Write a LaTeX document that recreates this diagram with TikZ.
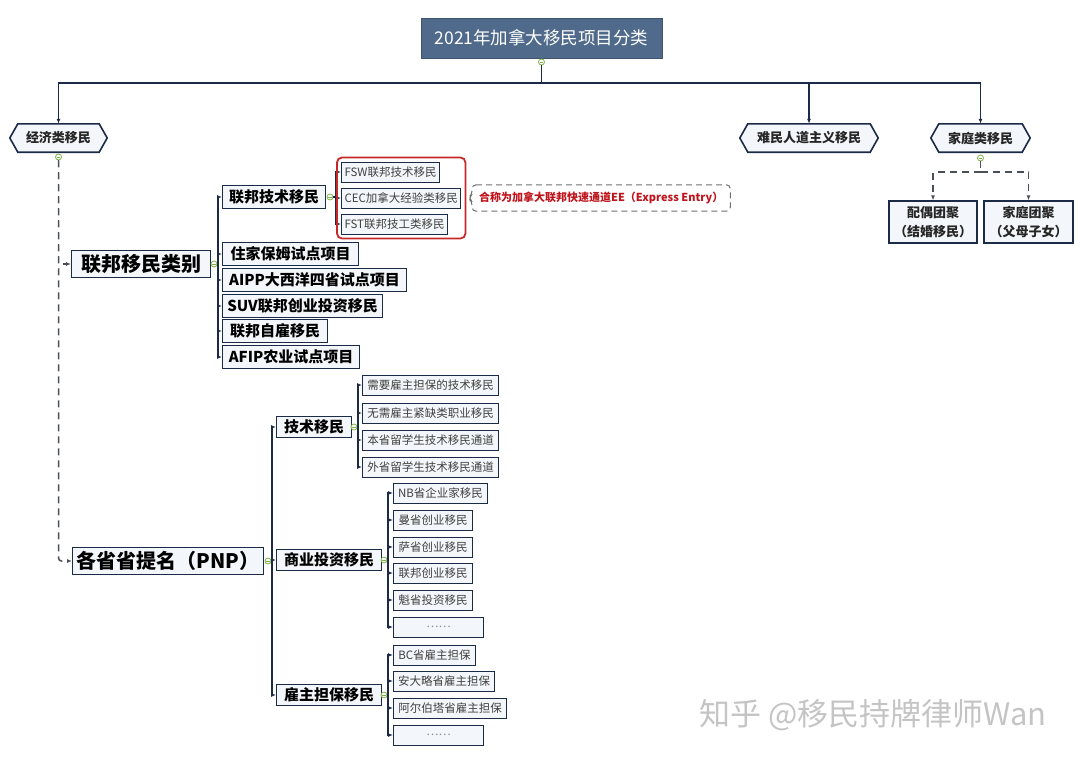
\documentclass[tikz,border=0pt]{standalone}
\usepackage{fontspec}
\setmainfont{Noto Sans CJK SC}
\usetikzlibrary{arrows.meta,fit,calc}
\definecolor{navy}{HTML}{1B2A47}
\definecolor{titleblue}{HTML}{4F6A8A}
\definecolor{boxfill}{HTML}{F3F6FA}
\definecolor{gcol}{HTML}{7CB342}
\definecolor{redline}{HTML}{C62828}
\definecolor{redtext}{HTML}{C0141C}
\definecolor{calloutgray}{HTML}{6E6E6E}
\definecolor{dashgray}{HTML}{4A4F5A}
\definecolor{wm}{HTML}{C4C4C4}
\pgfdeclarelayer{bg}
\pgfsetlayers{bg,main}
\begin{document}
\begin{tikzpicture}[x=1pt,y=-1pt,
 conn/.style={navy, line width=1.1pt},
 arr/.style={conn, -{Latex[length=5pt,width=4pt]}},
 dline/.style={dashgray, line width=1.5pt, dash pattern=on 7pt off 5pt},
 darr/.style={dline, -{Latex[length=5pt,width=4pt]}},
 gc/.style={circle, draw=gcol, fill=white, line width=0.8pt, inner sep=0pt, minimum size=6pt,
   path picture={\draw[gcol, line width=0.6pt] ([xshift=-1.8pt]path picture bounding box.center) -- ([xshift=1.8pt]path picture bounding box.center);}},
 nbox/.style={draw=navy, line width=1.2pt, fill=boxfill, inner xsep=3pt, inner ysep=0pt, anchor=west},
 lvlA/.style={nbox, font=\bfseries\fontsize{20}{20}\selectfont, minimum height=27pt},
 lvlB/.style={nbox, font=\bfseries\fontsize{15}{15}\selectfont, minimum height=23pt},
 lvlC/.style={nbox, line width=1pt, font=\fontsize{11.5}{11.5}\selectfont, minimum height=20pt, text=black!75},
 hexbox/.style={inner sep=0pt, minimum height=28pt, font=\bfseries\fontsize{13}{13}\selectfont, text=black!85},
 hexline/.style={draw=navy, line width=1.6pt, fill=boxfill},
 fam/.style={draw=navy, line width=1.2pt, fill=boxfill, inner sep=0pt, minimum height=42pt, align=center,
   font=\bfseries\fontsize{13}{19}\selectfont, text=black!85},
]
\useasboundingbox (0,0) rectangle (1080,760);

% title
\node[fill=titleblue, draw=titleblue!80!black, line width=0.6pt, minimum width=241pt, minimum height=40pt,
  text=white, font=\fontsize{17.5}{17.5}\selectfont] (title) at (541.5,38) {2021年加拿大移民项目分类};
\node[gc] (gtitle) at (541.5,62) {};
\coordinate (bus) at (541.5,83);

% level 1 hexagons
\node[hexbox, minimum width=81pt] (econ) at (58.5,138) {经济类移民};
\node[hexbox, minimum width=122pt] (refugee) at (809,138) {难民人道主义移民};
\node[hexbox, minimum width=83pt] (family) at (980.5,138) {家庭类移民};
\begin{pgfonlayer}{bg}
\foreach \n in {econ,refugee,family}
  \path[hexline] ([xshift=-8pt]\n.west) -- (\n.north west) -- (\n.north east) -- ([xshift=8pt]\n.east)
     -- (\n.south east) -- (\n.south west) -- cycle;
\end{pgfonlayer}
\draw[conn] (gtitle.south) -- (bus);
\draw[arr] (bus) -| (econ.north);
\draw[arr] (bus) -| (refugee.north);
\draw[arr] (bus) -| (family.north);

% family branch
\node[gc] (gfam) at (980.5,158) {};
\coordinate (fb) at (980.5,172);
\node[fam, minimum width=88pt] (spouse) at (933,222) {配偶团聚\\（结婚移民）};
\node[fam, minimum width=89pt] (parents) at (1028.5,222) {家庭团聚\\（父母子女）};
\draw[dline] (gfam.south) -- (fb);
\draw[darr] (fb) -| (spouse.north);
\draw[darr] (fb) -| (parents.north);

% economic branch
\node[gc] (gecon) at (58.5,157) {};
\node[lvlA, minimum width=139pt] (fed) at (71,264) {联邦移民类别};
\node[lvlA, minimum width=191pt] (pnp) at (72,561) {各省省提名（PNP）};
\draw[darr, rounded corners=3pt] (gecon.south) |- (pnp.west);
\draw[darr] (gecon.south) |- (fed.west);

% federal
\node[gc] (gfed) at (214,264) {};
\coordinate (bfed) at (218,264);
\node[lvlB, minimum width=103pt] (fsk) at (222,197) {联邦技术移民};
\node[lvlB, minimum width=136pt] (cg) at (222,254) {住家保姆试点项目};
\node[lvlB, minimum width=184pt] (aipp) at (222,280) {AIPP大西洋四省试点项目};
\node[lvlB, minimum width=160pt] (suv) at (222,306) {SUV联邦创业投资移民};
\node[lvlB, minimum width=105pt] (self) at (222,331) {联邦自雇移民};
\node[lvlB, minimum width=137pt] (afip) at (222,357) {AFIP农业试点项目};
\draw[conn] (gfed.east) -- (bfed);
\foreach \c in {fsk,cg,aipp,suv,self,afip} \draw[arr] (bfed) |- (\c.west);

% express entry
\node[gc] (gfsk) at (330,197) {};
\coordinate (bfsk) at (336,197);
\node[lvlC, minimum width=97pt] (fsw) at (341,172) {FSW联邦技术移民};
\node[lvlC, minimum width=116pt] (cec) at (341,198) {CEC加拿大经验类移民};
\node[lvlC, minimum width=103pt] (fst) at (341,224) {FST联邦技工类移民};
\draw[conn] (gfsk.east) -- (bfsk);
\foreach \c in {fsw,cec,fst} \draw[arr] (bfsk) |- (\c.west);
\node[draw=redline, line width=1.8pt, rounded corners=5pt, fit=(fsw)(cec)(fst), inner sep=4pt] (grp) {};
\node[anchor=west, minimum width=258pt, minimum height=26pt, inner sep=0pt, text=redtext,
  font=\bfseries\fontsize{11}{11}\selectfont] (ee) at (472,198) {合称为加拿大联邦快速通道EE（Express Entry）};
\draw[calloutgray, line width=1pt, dash pattern=on 6pt off 4pt, rounded corners=4pt]
  (ee.north west) -- (ee.north east) -- (ee.south east) -- (ee.south west)
  -- ([yshift=-3pt]ee.west) -- ([xshift=-4pt]ee.west) -- ([yshift=3pt]ee.west) -- cycle;

% PNP
\node[gc] (gpnp) at (268,561) {};
\coordinate (bpnp) at (272,561);
\node[lvlB, minimum width=75pt, minimum height=21pt] (tech) at (276,427) {技术移民};
\node[lvlB, minimum width=105pt, minimum height=21pt] (biz) at (276,560) {商业投资移民};
\node[lvlB, minimum width=105pt, minimum height=21pt] (emp) at (276,695) {雇主担保移民};
\draw[conn] (gpnp.east) -- (bpnp);
\foreach \c in {tech,biz,emp} \draw[arr] (bpnp) |- (\c.west);

\node[gc] (gtech) at (354,427) {};
\coordinate (btech) at (358,427);
\node[lvlC, minimum width=136pt] (t1) at (362,385) {需要雇主担保的技术移民};
\node[lvlC, minimum width=136pt] (t2) at (362,413) {无需雇主紧缺类职业移民};
\node[lvlC, minimum width=136pt] (t3) at (362,440) {本省留学生技术移民通道};
\node[lvlC, minimum width=136pt] (t4) at (362,467) {外省留学生技术移民通道};
\draw[conn] (gtech.east) -- (btech);
\foreach \c in {t1,t2,t3,t4} \draw[arr] (btech) |- (\c.west);

\node[gc] (gbiz) at (384,560) {};
\coordinate (bbiz) at (388,560);
\node[lvlC, minimum width=94pt] (b1) at (393,493) {NB省企业家移民};
\node[lvlC, minimum width=79pt] (b2) at (393,520) {曼省创业移民};
\node[lvlC, minimum width=79pt] (b3) at (393,547) {萨省创业移民};
\node[lvlC, minimum width=79pt] (b4) at (393,573) {联邦创业移民};
\node[lvlC, minimum width=79pt] (b5) at (393,600) {魁省投资移民};
\node[lvlC, minimum width=90pt, text=black!45] (b6) at (393,627) {……};
\draw[conn] (gbiz.east) -- (bbiz);
\foreach \c in {b1,b2,b3,b4,b5,b6} \draw[arr] (bbiz) |- (\c.west);

\node[gc] (gemp) at (384,695) {};
\coordinate (bemp) at (388,695);
\node[lvlC, minimum width=82pt] (e1) at (393,655) {BC省雇主担保};
\node[lvlC, minimum width=101pt] (e2) at (393,681) {安大略省雇主担保};
\node[lvlC, minimum width=113pt] (e3) at (393,708) {阿尔伯塔省雇主担保};
\node[lvlC, minimum width=90pt, text=black!45] (e4) at (393,735) {……};
\draw[conn] (gemp.east) -- (bemp);
\foreach \c in {e1,e2,e3,e4} \draw[arr] (bemp) |- (\c.west);

% watermark
\node[text=wm, font=\fontsize{31}{31}\selectfont] (wmk) at (873,715) {知乎 @移民持牌律师Wan};
\end{tikzpicture}
\end{document}
